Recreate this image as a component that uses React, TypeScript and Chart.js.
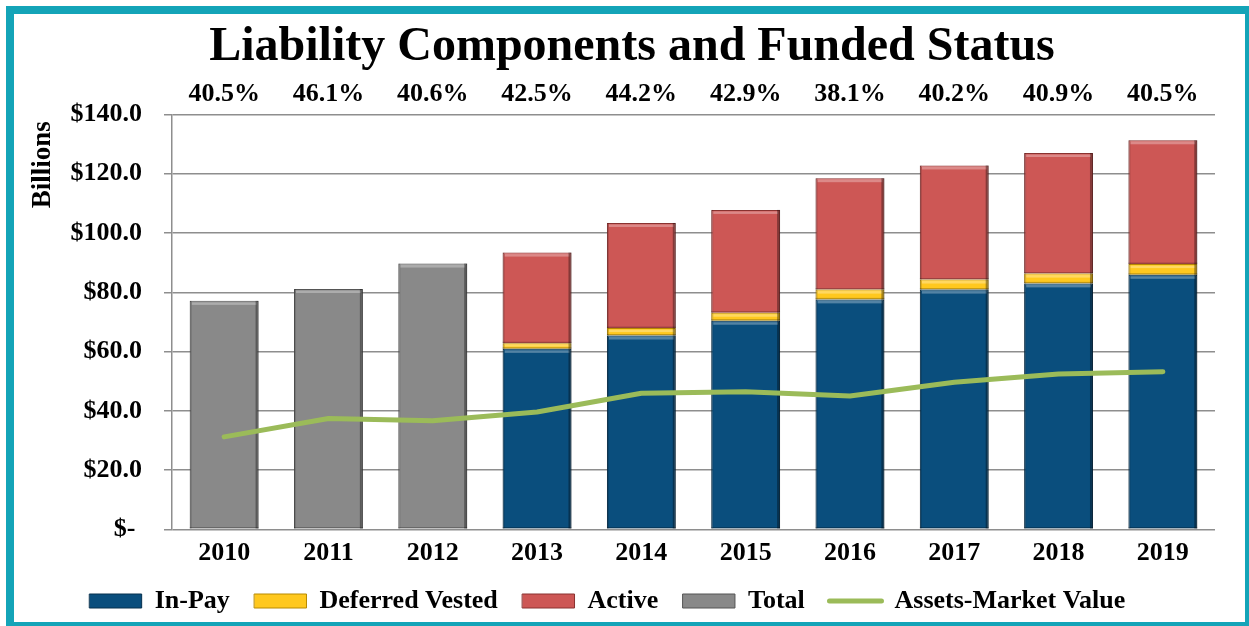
import React, { useEffect, useRef } from "react";
import { Chart, registerables } from "chart.js";

Chart.register(...registerables);

const chartTitle = "Liability Components and Funded Status";
const categories = ["2010", "2011", "2012", "2013", "2014", "2015", "2016", "2017", "2018", "2019"];
const fundedPct = ["40.5%", "46.1%", "40.6%", "42.5%", "44.2%", "42.9%", "38.1%", "40.2%", "40.9%", "40.5%"];
const inPay = [null, null, null, 60.9, 65.4, 70.4, 77.6, 80.9, 83.0, 85.9];
const deferredVested = [null, null, null, 1.9, 2.5, 2.7, 3.3, 3.4, 3.3, 3.6];
const active = [null, null, null, 30.6, 35.5, 34.7, 37.6, 38.5, 40.7, 41.8];
const total = [77.1, 81.1, 89.7, null, null, null, null, null, null, null];
const assets = [31.2, 37.4, 36.6, 39.6, 45.9, 46.4, 45.0, 49.6, 52.4, 53.2];
const yMin = 0;
const yMax = 140;
const yStep = 20;

const SERIF = '"Liberation Serif", "Times New Roman", serif';

const colors = {
  inPay: "#0A4E7D",
  inPayEdge: "#06304F",
  dv: "#FFC81E",
  dvEdge: "#B88A00",
  active: "#CD5755",
  activeEdge: "#8A3230",
  total: "#898989",
  totalEdge: "#555555",
  assets: "#9BBB59",
  grid: "#8E8E8E",
  teal: "#14A4B8",
};

const bevelPlugin = {
  id: "bevel",
  afterDatasetDraw(chart: any, args: any) {
    const ds = chart.data.datasets[args.index];
    if (ds.type !== "bar") return;
    const ctx = chart.ctx;
    const meta = chart.getDatasetMeta(args.index);
    ctx.save();
    meta.data.forEach((el: any, i: number) => {
      if (ds.data[i] == null) return;
      const { x, y, base, width } = el.getProps(["x", "y", "base", "width"], true);
      const left = x - width / 2;
      const top = Math.min(y, base);
      const h = Math.abs(base - y);
      if (h < 1) return;
      ctx.fillStyle = "rgba(255,255,255,0.3)";
      ctx.fillRect(left + 2, top + 1.5, width - 4, Math.min(2.5, h / 3));
      ctx.fillStyle = "rgba(0,0,0,0.35)";
      ctx.fillRect(left + width - 3, top, 3, h);
      ctx.fillStyle = "rgba(0,0,0,0.15)";
      ctx.fillRect(left, top, 2, h);
      ctx.fillStyle = "rgba(0,0,0,0.25)";
      ctx.fillRect(left, top + h - 1.5, width, 1.5);
    });
    ctx.restore();
  },
};

const textPlugin = {
  id: "textLabels",
  afterDraw(chart: any) {
    const ctx = chart.ctx;
    const xs = chart.scales.x;
    ctx.save();
    ctx.fillStyle = "#000";
    ctx.textBaseline = "alphabetic";
    ctx.textAlign = "center";
    ctx.font = `bold 48px ${SERIF}`;
    ctx.fillText(chartTitle, 632, 60);
    ctx.font = `bold 26px ${SERIF}`;
    fundedPct.forEach((p, i) => {
      ctx.fillText(p, xs.getPixelForValue(i), 100.5);
    });
    ctx.restore();
  },
};

export default function App() {
  const ref = useRef<HTMLCanvasElement | null>(null);

  useEffect(() => {
    document.body.style.margin = "0";
    const canvas = ref.current;
    if (!canvas) return;
    const chart = new Chart(canvas, {
      type: "bar",
      data: {
        labels: categories,
        datasets: [
          {
            type: "bar",
            label: "In-Pay",
            data: inPay as any,
            backgroundColor: colors.inPay,
            borderColor: colors.inPayEdge,
            borderWidth: 1,
            stack: "bars",
          },
          {
            type: "bar",
            label: "Deferred Vested",
            data: deferredVested as any,
            backgroundColor: colors.dv,
            borderColor: colors.dvEdge,
            borderWidth: 1,
            stack: "bars",
          },
          {
            type: "bar",
            label: "Active",
            data: active as any,
            backgroundColor: colors.active,
            borderColor: colors.activeEdge,
            borderWidth: 1,
            stack: "bars",
          },
          {
            type: "bar",
            label: "Total",
            data: total as any,
            backgroundColor: colors.total,
            borderColor: colors.totalEdge,
            borderWidth: 1,
            stack: "bars",
          },
          {
            type: "line",
            label: "Assets-Market Value",
            data: assets,
            borderColor: colors.assets,
            backgroundColor: colors.assets,
            borderWidth: 5,
            pointRadius: 0,
            tension: 0,
            borderCapStyle: "round",
            borderJoinStyle: "round",
            stack: "line",
            order: -1,
          } as any,
        ],
      },
      options: {
        responsive: false,
        animation: false,
        devicePixelRatio: 1,
        layout: { padding: { left: 0, right: 34, top: 114.5, bottom: 2 } },
        datasets: {
          bar: { categoryPercentage: 1, barPercentage: 0.66 },
        },
        scales: {
          x: {
            stacked: true,
            grid: { display: false, drawTicks: false },
            border: { display: false },
            ticks: {
              color: "#000",
              padding: 8.4,
              font: { family: SERIF, size: 26, weight: "bold" },
            },
            afterFit: (s: any) => {
              s.height = 34;
            },
          },
          y: {
            stacked: true,
            min: yMin,
            max: yMax,
            grid: {
              color: colors.grid,
              lineWidth: 1.5,
              drawTicks: true,
              tickLength: 8,
              tickColor: colors.grid,
            },
            border: { display: true, color: colors.grid, width: 1.5 },
            ticks: {
              stepSize: yStep,
              color: "#000",
              padding: 22,
              font: { family: SERIF, size: 26, weight: "bold" },
              callback: (v: any) => (Number(v) === 0 ? "$- " : "$" + Number(v).toFixed(1)),
            },
            title: {
              display: true,
              text: "Billions ",
              align: "end",
              color: "#000",
              font: { family: SERIF, size: 27, weight: "bold" },
              padding: { top: 27, bottom: 0 },
            },
            afterFit: (s: any) => {
              s.width = 172;
              s.paddingTop = 0;
              s.paddingBottom = 0;
            },
          },
        },
        plugins: {
          title: { display: false },
          legend: {
            display: true,
            position: "bottom",
            labels: {
              usePointStyle: true,
              pointStyleWidth: 52,
              boxHeight: 14,
              padding: 24.7,
              color: "#000",
              font: { family: SERIF, size: 26, weight: "bold" },
              generateLabels: (c: any) =>
                c.data.datasets.map((ds: any, i: number) => {
                  const isLine = ds.type === "line";
                  return {
                    text: ds.label,
                    datasetIndex: i,
                    fillStyle: ds.backgroundColor,
                    strokeStyle: ds.borderColor,
                    lineWidth: isLine ? 5 : 1,
                    lineCap: "round",
                    pointStyle: isLine ? "line" : "rect",
                    hidden: false,
                    fontColor: "#000",
                  };
                }),
            },
          },
          tooltip: { enabled: false },
        },
      },
      plugins: [bevelPlugin, textPlugin],
    } as any);
    return () => chart.destroy();
  }, []);

  return (
    <div style={{ position: "fixed", left: 0, top: 0, width: 1249, height: 626, background: "#fff", overflow: "hidden" }}>
      <div
        style={{
          position: "absolute",
          left: 6,
          top: 6,
          width: 1243,
          height: 620,
          boxSizing: "border-box",
          borderStyle: "solid",
          borderColor: colors.teal,
          borderWidth: "8px 4px 4px 8px",
        }}
      />
      <canvas
        ref={ref}
        width={1249}
        height={626}
        style={{ position: "absolute", left: 0, top: 0, width: 1249, height: 626 }}
      />
    </div>
  );
}
